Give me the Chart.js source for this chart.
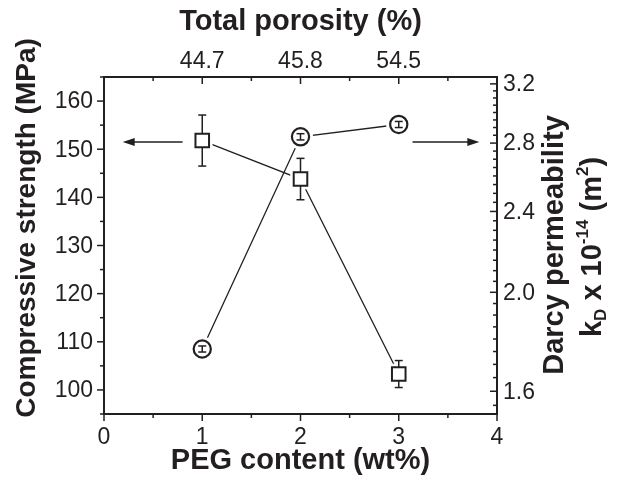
<!DOCTYPE html>
<html><head><meta charset="utf-8">
<script src="https://cdn.jsdelivr.net/npm/chart.js@4/dist/chart.umd.min.js"></script>
<style>html,body{margin:0;padding:0;background:#fff}canvas{display:block}</style>
</head><body>
<canvas id="c" width="621" height="483"></canvas>
<script>
// ---- data ----
const pegContent = [1, 2, 3];
const porosityLabels = ['44.7', '45.8', '54.5'];
const strength = [151.8, 143.8, 103.3];
const strengthErr = [5.3, 4.3, 2.8];
const permeability = [1.76, 2.84, 2.92];
const permErr = [0.012, 0.02, 0.02];
const xTicks = [0, 1, 2, 3, 4];
const leftTicks = [100, 110, 120, 130, 140, 150, 160];
const rightTicks = [1.6, 2.0, 2.4, 2.8, 3.2];
const arrowLeft = { from: 0.8, to: 0.19, y: 151.5 };
const arrowRight = { from: 3.14, to: 3.82, y: 151.5 };

const C = '#231f20';
const FAM = '"Liberation Sans", Arial, Helvetica, sans-serif';
const TICK = '23px ' + FAM;
const TITLE = 'bold 29px ' + FAM;
const TITLE_L = 'bold 28px ' + FAM;
const SMALL = 'bold 17px ' + FAM;

function line(ctx, x1, y1, x2, y2) { ctx.beginPath(); ctx.moveTo(x1, y1); ctx.lineTo(x2, y2); ctx.stroke(); }

function drawRich(ctx, parts, cx, cy, rot) {
  ctx.save();
  ctx.translate(cx, cy);
  if (rot) ctx.rotate(rot);
  ctx.textAlign = 'left'; ctx.textBaseline = 'middle'; ctx.fillStyle = C;
  let total = 0;
  parts.forEach(p => { ctx.font = p.font; p.w = ctx.measureText(p.t).width; total += p.w; });
  let x = -total / 2;
  parts.forEach(p => { ctx.font = p.font; ctx.fillText(p.t, x, p.dy || 0); x += p.w; });
  ctx.restore();
}

function arrow(ctx, x1, y, x2) {
  const dir = Math.sign(x2 - x1);
  ctx.lineWidth = 1.5;
  line(ctx, x1, y, x2 - dir * 8, y);
  ctx.beginPath();
  ctx.moveTo(x2, y);
  ctx.lineTo(x2 - dir * 12, y - 4);
  ctx.lineTo(x2 - dir * 12, y + 4);
  ctx.closePath();
  ctx.fill();
}

function drawErr(chart, meta, vals, errs, scale, cap) {
  const ctx = chart.ctx;
  ctx.save();
  ctx.strokeStyle = C; ctx.lineWidth = 1.5;
  meta.data.forEach((p, i) => {
    const y1 = scale.getPixelForValue(vals[i] + errs[i]);
    const y2 = scale.getPixelForValue(vals[i] - errs[i]);
    line(ctx, p.x, y1, p.x, y2);
    line(ctx, p.x - cap / 2, y1, p.x + cap / 2, y1);
    line(ctx, p.x - cap / 2, y2, p.x + cap / 2, y2);
  });
  ctx.restore();
}

const decor = {
  id: 'decor',
  beforeDatasetsDraw(chart) {
    const { ctx, chartArea: a, scales } = chart;
    ctx.save();
    ctx.strokeStyle = C; ctx.lineWidth = 1.5;
    for (let k = 0; k <= 8; k++) {
      const v = k * 0.5, major = k % 2 === 0;
      const x = scales.x.getPixelForValue(v);
      line(ctx, x, a.bottom, x, a.bottom + (major ? 7 : 4));
      line(ctx, x, a.top, x, a.top + (major ? 7 : 4));
    }
    for (let k = 0; k <= 14; k++) {
      const v = 95 + k * 5, major = v % 10 === 0;
      const y = scales.y.getPixelForValue(v);
      line(ctx, a.left - (major ? 7 : 4), y, a.left, y);
    }
    for (let k = 31; k <= 65; k++) {
      const v = k * 0.05, major = k % 8 === 0;
      const y = scales.y2.getPixelForValue(v);
      if (y < a.top || y > a.bottom) continue;
      line(ctx, a.right - (major ? 7 : 4), y, a.right, y);
    }
    ctx.lineWidth = 2;
    ctx.strokeRect(a.left, a.top, a.right - a.left, a.bottom - a.top);

    // tick labels
    ctx.fillStyle = C; ctx.font = TICK; ctx.textBaseline = 'middle';
    ctx.textAlign = 'center';
    xTicks.forEach(v => ctx.fillText(String(v), scales.x.getPixelForValue(v), a.bottom + 24));
    pegContent.forEach((v, i) => ctx.fillText(porosityLabels[i], scales.x2.getPixelForValue(v), a.top - 15));
    ctx.textAlign = 'right';
    leftTicks.forEach(v => ctx.fillText(String(v), a.left - 11, scales.y.getPixelForValue(v) + 1));
    ctx.textAlign = 'left';
    rightTicks.forEach(v => ctx.fillText(v.toFixed(1), a.right + 6, scales.y2.getPixelForValue(v) + 1));
    ctx.restore();
  },
  beforeDatasetDraw(chart, args) {
    const ds = chart.data.datasets[args.index];
    if (!ds.marker) return;
    const { ctx } = chart;
    ctx.save();
    ctx.fillStyle = '#fff';
    args.meta.data.forEach(p => {
      ctx.beginPath();
      if (ds.marker === 'square') { const h = ds.pointRadius * Math.SQRT1_2 + 3.5; ctx.rect(p.x - h, p.y - h, 2 * h, 2 * h); }
      else ctx.arc(p.x, p.y, ds.pointRadius + 4, 0, Math.PI * 2);
      ctx.fill();
    });
    if (ds.marker === 'square') drawErr(chart, args.meta, strength, strengthErr, chart.scales.y, 8);
    ctx.restore();
  },
  afterDatasetDraw(chart, args) {
    const ds = chart.data.datasets[args.index];
    if (ds.marker === 'circle') drawErr(chart, args.meta, permeability, permErr, chart.scales.y2, 8);
  },
  afterDraw(chart) {
    const { ctx, chartArea: a, scales } = chart;
    ctx.save();
    ctx.fillStyle = C; ctx.strokeStyle = C;
    const ya = scales.y.getPixelForValue(arrowLeft.y);
    arrow(ctx, scales.x.getPixelForValue(arrowLeft.from), ya, scales.x.getPixelForValue(arrowLeft.to));
    const yb = scales.y.getPixelForValue(arrowRight.y);
    arrow(ctx, scales.x.getPixelForValue(arrowRight.from), yb, scales.x.getPixelForValue(arrowRight.to));
    const cx = (a.left + a.right) / 2;
    drawRich(ctx, [{ t: 'Total porosity (%)', font: TITLE }], cx, 22, 0);
    drawRich(ctx, [{ t: 'PEG content (wt%)', font: TITLE }], cx, 461, 0);
    drawRich(ctx, [{ t: 'Compressive strength (MPa)', font: TITLE_L }], 27, 228, -Math.PI / 2);
    drawRich(ctx, [{ t: 'Darcy permeability', font: TITLE }], 555, 245, -Math.PI / 2);
    drawRich(ctx, [
      { t: 'k', font: TITLE }, { t: 'D', font: SMALL, dy: 8 }, { t: ' x 10', font: TITLE },
      { t: '-14', font: SMALL, dy: -10 }, { t: ' (m', font: TITLE }, { t: '2', font: SMALL, dy: -10 },
      { t: ')', font: TITLE }
    ], 593, 247, -Math.PI / 2);
    ctx.restore();
  }
};

const sqPts = pegContent.map((x, i) => ({ x, y: strength[i] }));
const cirPts = pegContent.map((x, i) => ({ x, y: permeability[i] }));
const hidden = { display: false };

new Chart(document.getElementById('c'), {
  type: 'scatter',
  data: {
    datasets: [
      { label: 'Compressive strength line', data: sqPts, yAxisID: 'y', showLine: true, borderColor: C, borderWidth: 1.3, pointRadius: 0, order: 3 },
      { label: 'Darcy permeability line', data: cirPts, yAxisID: 'y2', showLine: true, borderColor: C, borderWidth: 1.3, pointRadius: 0, order: 3 },
      { label: 'Compressive strength', marker: 'square', data: sqPts, yAxisID: 'y', showLine: false, pointStyle: 'rect', pointRadius: 9.6, pointBorderWidth: 2, pointBackgroundColor: '#fff', pointBorderColor: C, order: 1 },
      { label: 'Darcy permeability', marker: 'circle', data: cirPts, yAxisID: 'y2', showLine: false, pointStyle: 'circle', pointRadius: 8.6, pointBorderWidth: 2.2, pointBackgroundColor: '#fff', pointBorderColor: C, order: 2 }
    ]
  },
  options: {
    responsive: false, animation: false, devicePixelRatio: 1,
    layout: { padding: 0 },
    plugins: { legend: { display: false }, tooltip: { enabled: false } },
    scales: {
      x: {
        type: 'linear', position: 'bottom', min: 0, max: 4,
        ticks: hidden, grid: hidden, border: hidden,
        afterFit: s => { s.height = 69; }
      },
      x2: {
        type: 'linear', position: 'top', min: 0, max: 4,
        ticks: hidden, grid: hidden, border: hidden,
        afterFit: s => { s.height = 77; }
      },
      y: {
        type: 'linear', position: 'left', min: 95, max: 165,
        ticks: hidden, grid: hidden, border: hidden,
        afterFit: s => { s.width = 104; }
      },
      y2: {
        type: 'logarithmic', position: 'right', min: 1.52, max: 3.25,
        ticks: hidden, grid: hidden, border: hidden,
        afterFit: s => { s.width = 124; }
      }
    }
  },
  plugins: [decor]
});
</script>
</body></html>
